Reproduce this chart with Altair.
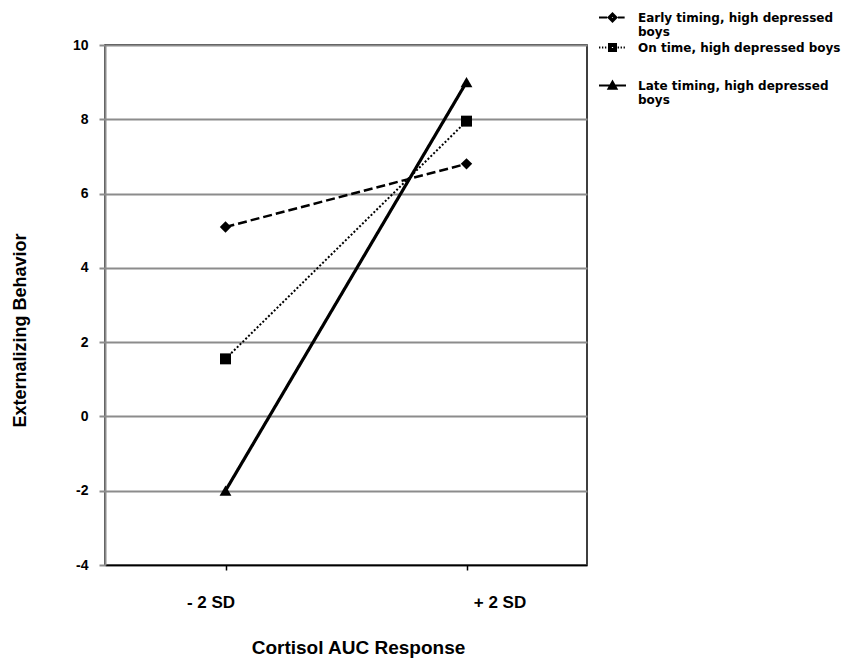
import altair as alt
import pandas as pd

# ---- data ----
cortisol = ["- 2 SD", "+ 2 SD"]
series_names = [
    "Early timing, high depressed boys",
    "On time, high depressed boys",
    "Late timing, high depressed boys",
]
early_values = [5.1, 6.8]
on_time_values = [1.55, 7.95]
late_values = [-2.0, 9.0]
y_ticks = [-4, -2, 0, 2, 4, 6, 8, 10]

rows = []
for name, vals in zip(series_names, [early_values, on_time_values, late_values]):
    for c, v in zip(cortisol, vals):
        rows.append({"cortisol": c, "series": name, "value": v})
df = pd.DataFrame(rows)

FONT = "Liberation Sans"
LEGEND_FONT = "DejaVu Sans"
GRID = "#8c8c8c"

# legend symbols: line + marker drawn as custom SVG paths (unit = half symbol width)
EARLY_SYM = ("M-1,0H-0.4M0.4,0H0.9"
             "M-0.3,0L0,-0.3L0.3,0L0,0.3Z"
             "M-0.15,0L0,-0.15L0.15,0L0,0.15Z")
ONTIME_SYM = ("M-1,0H-0.9M-0.78,0H-0.68M-0.56,0H-0.46"
              "M0.38,0H0.48M0.6,0H0.7M0.82,0H0.92"
              "M-0.26,-0.26H0.26V0.26H-0.26Z"
              "M-0.12,-0.12H0.12V0.12H-0.12Z")
LATE_SYM = ("M-1,0H1M-0.3,0.24L0,-0.3L0.3,0.24Z"
            "M-0.14,0.12L0,-0.12L0.14,0.12Z")
legend_symbols = [EARLY_SYM, ONTIME_SYM, LATE_SYM]
legend_lines = [
    ["Early timing, high depressed", "boys"],
    ["On time, high depressed boys"],
    ["Late timing, high depressed", "boys"],
]
legend_y = [-42, -12, 26]

base = alt.Chart(df)

x_enc = alt.X(
    "cortisol:N",
    sort=cortisol,
    scale=alt.Scale(type="point", padding=0.5),
    axis=alt.Axis(
        title="Cortisol AUC Response",
        labelAngle=0,
        labelFont=FONT,
        labelFontSize=17,
        labelFontWeight="bold",
        labelColor="black",
        labelBaseline="middle",
        labelPadding=32,
        labelOffset=alt.ExprRef(expr="datum.value == '+ 2 SD' ? 33 : -15"),
        tickSize=5,
        tickColor="black",
        tickWidth=1.5,
        domainColor="black",
        domainWidth=1.5,
        grid=False,
        titleFont=FONT,
        titleFontSize=19,
        titleFontWeight="bold",
        titleColor="black",
        titleX=253,
        titleY=82,
        titleBaseline="middle",
    ),
)

y_enc = alt.Y(
    "value:Q",
    scale=alt.Scale(domain=[-4, 10], nice=False, zero=False),
    axis=alt.Axis(
        values=y_ticks,
        title="Externalizing Behavior",
        labelExpr="replace(datum.label, '\u2212', '-')",
        labelFont=FONT,
        labelFontSize=14,
        labelFontWeight="bold",
        labelColor="black",
        labelPadding=11,
        tickSize=6,
        tickColor=GRID,
        tickWidth=2,
        domainColor=GRID,
        domainWidth=2,
        grid=True,
        gridColor=GRID,
        gridWidth=2,
        titleFont=FONT,
        titleFontSize=18,
        titleFontWeight="bold",
        titleColor="black",
        titleAngle=270,
        titleX=-85,
        titleY=285,
        titleBaseline="middle",
    ),
)

line_dash = [[9, 4], [2, 2], [1, 0]]
line_width = [2.5, 2, 3.2]
marker_shape = ["diamond", "square", "triangle-up"]
marker_size = [130, 120, 140]

layers = []
for name, dash, w in zip(series_names, line_dash, line_width):
    layers.append(
        base.transform_filter(alt.datum.series == name)
        .mark_line(color="black", strokeDash=dash, strokeWidth=w)
        .encode(x=x_enc, y=y_enc)
    )
for name, shp, sz in zip(series_names, marker_shape, marker_size):
    layers.append(
        base.transform_filter(alt.datum.series == name)
        .mark_point(filled=True, color="black", opacity=1, shape=shp, size=sz)
        .encode(x=x_enc, y=y_enc)
    )

# one legend per series so each entry can sit where the reference puts it
for name, sym, lines_, ly in zip(series_names, legend_symbols, legend_lines, legend_y):
    label_expr = "[" + ", ".join("'" + s + "'" for s in lines_) + "]"
    layers.append(
        base.transform_filter(alt.datum.series == name)
        .mark_point(filled=False, color="black", opacity=0, strokeWidth=2)
        .encode(
            x=x_enc,
            y=y_enc,
            shape=alt.Shape(
                "series:N",
                scale=alt.Scale(domain=[name], range=[sym]),
                legend=alt.Legend(
                    title=None,
                    orient="none",
                    legendX=493,
                    legendY=ly,
                    padding=0,
                    symbolSize=729,
                    symbolOpacity=1,
                    symbolFillColor="black",
                    symbolStrokeColor="black",
                    symbolStrokeWidth=2,
                    labelFont=LEGEND_FONT,
                    labelFontSize=12,
                    labelFontWeight="bold",
                    labelColor="black",
                    labelLimit=400,
                    labelOffset=11,
                    labelExpr=label_expr,
                ),
            ),
        )
    )

chart = (
    alt.layer(*layers)
    .resolve_scale(shape="independent")
    .properties(
        width=482,
        height=520,
        autosize=alt.AutoSizeParams(type="none"),
        padding={"left": 97, "top": 37, "right": 270, "bottom": 94},
        background="white",
    )
    .configure_view(stroke="black", strokeWidth=1.5)
)

chart.save("out.html", embed_options={"renderer": "svg", "actions": False})
